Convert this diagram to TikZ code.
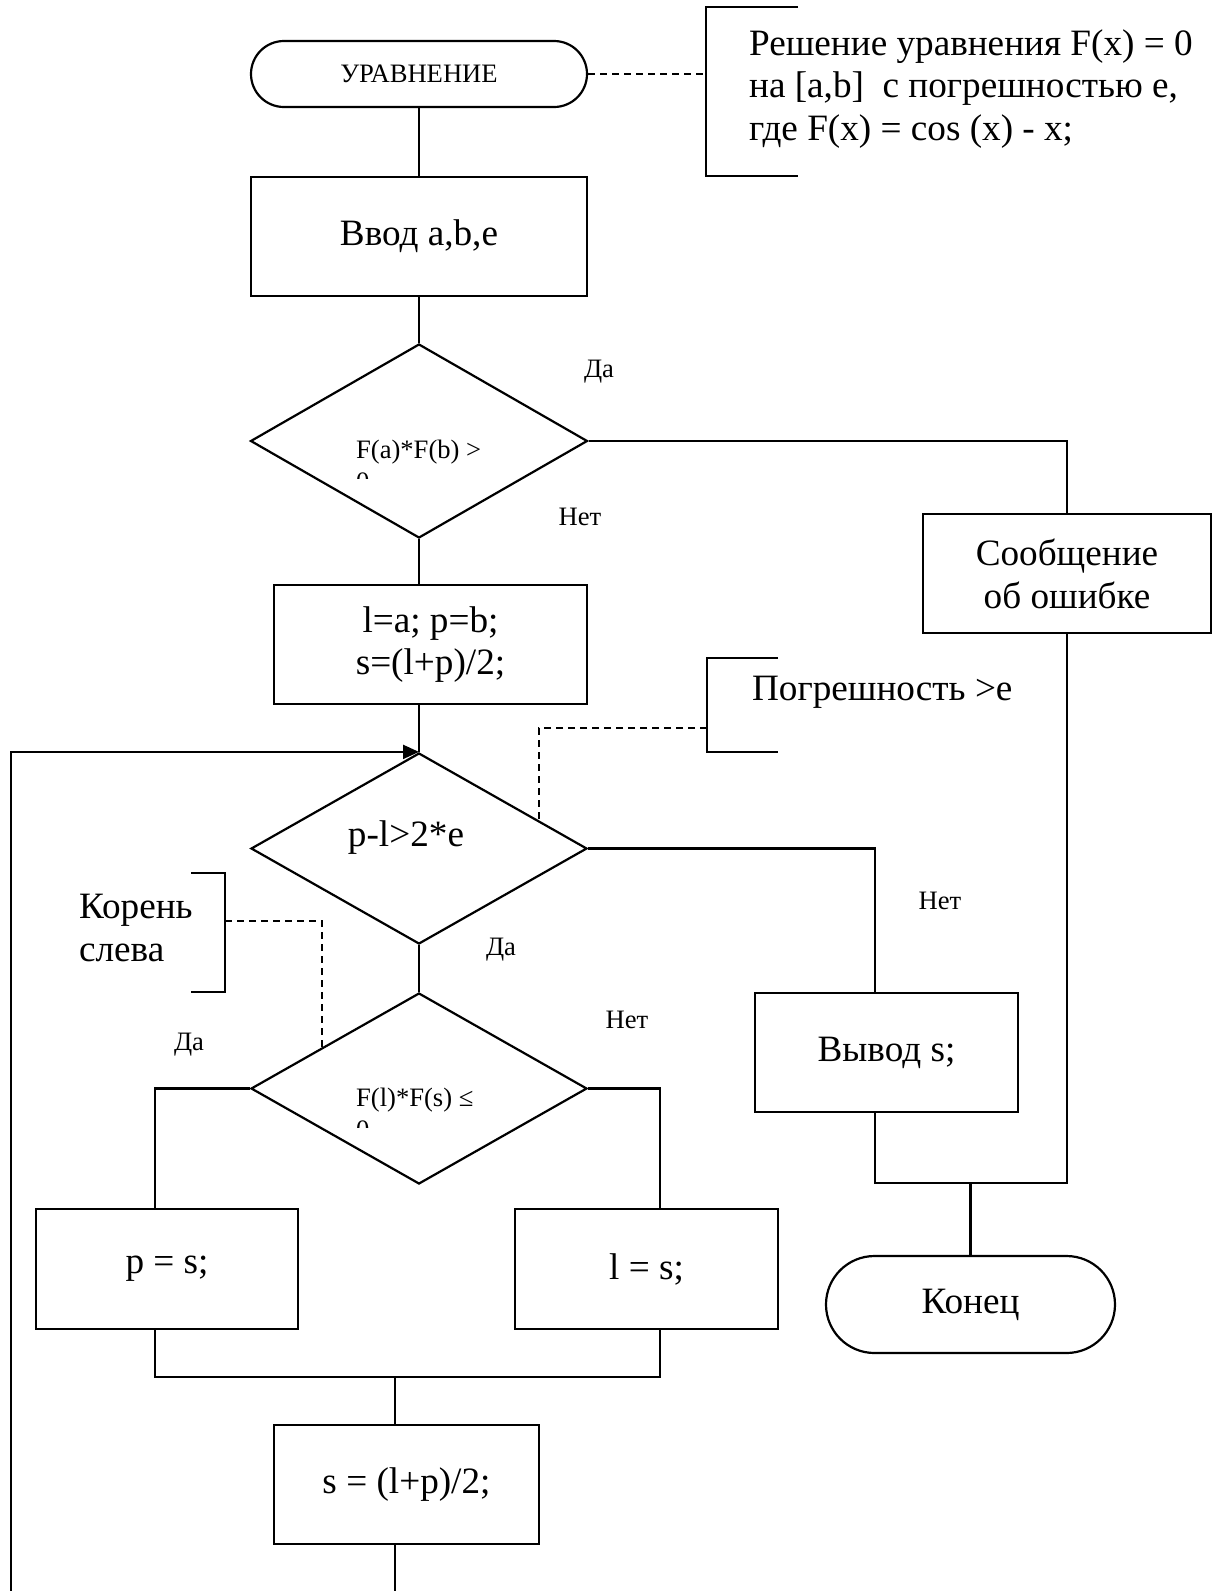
\documentclass[tikz,border=0pt]{standalone}
\usepackage{fontspec}
\setmainfont{Liberation Serif}
\usetikzlibrary{shapes.geometric,arrows.meta}

\begin{document}
\begin{tikzpicture}[x=0.5pt,y=-0.5pt,line width=1.1pt,
  bigtxt/.style={font=\fontsize{18.6}{21.4}\selectfont},
  smalltxt/.style={font=\fontsize{13.3}{16}\selectfont},
  box/.style={draw, rectangle, inner sep=0pt, bigtxt, align=center},
  term/.style={draw, rectangle, rounded corners=#1, inner sep=0pt},
  decision/.style={draw, diamond, inner sep=0pt},
  dsh/.style={dash pattern=on 3.5pt off 2.5pt},
  lbl/.style={smalltxt, inner sep=0pt},
  tip/.style={-{Triangle[length=8pt,width=7pt]}}]

\useasboundingbox (0,0) rectangle (1223,1591);

% --- blocks of the flowchart ---
\node[term=16.5pt, minimum width=168pt, minimum height=33pt, smalltxt] (start) at (419,74) {УРАВНЕНИЕ};
\node[box, minimum width=168pt, minimum height=59.5pt] (input) at (419,236.5) {Ввод a,b,e};
\node[decision, minimum width=168.5pt, minimum height=97pt] (d1) at (419,441) {};
\node[box, minimum width=144pt, minimum height=59.5pt] (err) at (1067,573.5) {Сообщение\\об ошибке};
\node[box, minimum width=156.5pt, minimum height=59.5pt] (init) at (430.5,644.5) {l=a; p=b;\\s=(l+p)/2;};
\node[decision, minimum width=168pt, minimum height=95.5pt] (d2) at (419,848.5) {};
\node[bigtxt, inner sep=0pt] (d2txt) at (406,838) {p-l>2*e};
\node[box, minimum width=131.5pt, minimum height=59.5pt] (out) at (886.5,1052.5) {Вывод s;};
\node[decision, minimum width=168pt, minimum height=95.5pt] (d3) at (419,1088.5) {};
\node[box, minimum width=131pt, minimum height=60pt] (pbox) at (167,1269) {p = s;};
\node[box, minimum width=131.5pt, minimum height=60pt] (lbox) at (646.5,1269) {l = s;};
\node[box, minimum width=132.5pt, minimum height=59.5pt] (sbox) at (406.5,1484.5) {s = (l+p)/2;};
\node[term=24.25pt, minimum width=144.5pt, minimum height=48.5pt, bigtxt] (end) at (970.5,1304.5) {Конец};

% conditions inside the diamonds (second line cut off by the text frame);
% the base anchor of a two-line node sits on its last line
\begin{scope}
  \clip (330,400) rectangle (580,478);
  \node[smalltxt, anchor=base west, inner sep=0pt, align=left] (d1txt) at (355,490) {F(a)*F(b) >\\0};
\end{scope}
\begin{scope}
  \clip (330,1050) rectangle (580,1127);
  \node[smalltxt, anchor=base west, inner sep=0pt, align=left] (d3txt) at (355,1138) {F(l)*F(s) ≤\\0};
\end{scope}

% --- connectors ---
\coordinate (outin) at (875,993);
\coordinate (jr) at (875,1183);
\coordinate (pin) at (155,1209);
\coordinate (lin) at (660,1209);
\coordinate (pj) at (155,1377);
\coordinate (lj) at (660,1377);
\coordinate (sj) at (395,1377);
\coordinate (sbot) at (395,1591);
\coordinate (loopbot) at (11,1591);

\draw (start.south) -- (input.north);
\draw (input.south) -- (d1.north);
\draw (d1.east) -| (err.north);
\draw (d1.south) -- (d1.south |- init.north);
\draw (d1.south |- init.south) -- (d2.north);
\draw[tip] (loopbot) |- (d2.north);
\draw (d2.east) -| (outin);
\draw (err.south) |- (jr) -- (jr |- out.south);
\draw (jr -| end.north) -- (end.north);
\draw (d2.south) -- (d3.north);
\draw (d3.west) -| (pin);
\draw (d3.east) -| (lin);
\draw (pj |- pbox.south) -- (pj) -- (lj) -- (lj |- lbox.south);
\draw (sj) -- (sj |- sbox.north);
\draw (sj |- sbox.south) -- (sbot);

% --- branch labels ---
\node[lbl] (yes1) at (599,372) {Да};
\node[lbl] (no1) at (580,517) {Нет};
\node[lbl] (no2) at (940,901) {Нет};
\node[lbl] (yes2) at (501,950) {Да};
\node[lbl] (yes3) at (189,1045) {Да};
\node[lbl] (no3) at (627,1020) {Нет};

% --- comments ---
\draw (798,7) -- (706,7) -- (706,176) -- (798,176);
\coordinate (n1) at (706,74);
\draw[dsh] (start.east) -- (n1);
\node[bigtxt, anchor=west, align=left, inner sep=0pt] (note1) at (748,89)
  {Решение уравнения F(x) = 0\\на [a,b]\ \ с погрешностью e,\\где F(x) = cos (x) - x;};

\draw (778,658) -- (707,658) -- (707,752) -- (778,752);
\coordinate (n2) at (707,728);
\coordinate (n2e) at (539,819.6);
\draw[dsh] (n2) -| (n2e);
\node[bigtxt, anchor=west, inner sep=0pt] (note2) at (751,692) {Погрешность >e};

\draw (191,873) -- (225,873) -- (225,992) -- (191,992);
\coordinate (n3) at (225,921);
\coordinate (n3e) at (322,1047);
\draw[dsh] (n3) -| (n3e);
\node[bigtxt, anchor=west, align=left, inner sep=0pt] (note3) at (78,928) {Корень\\слева};

\end{tikzpicture}
\end{document}
